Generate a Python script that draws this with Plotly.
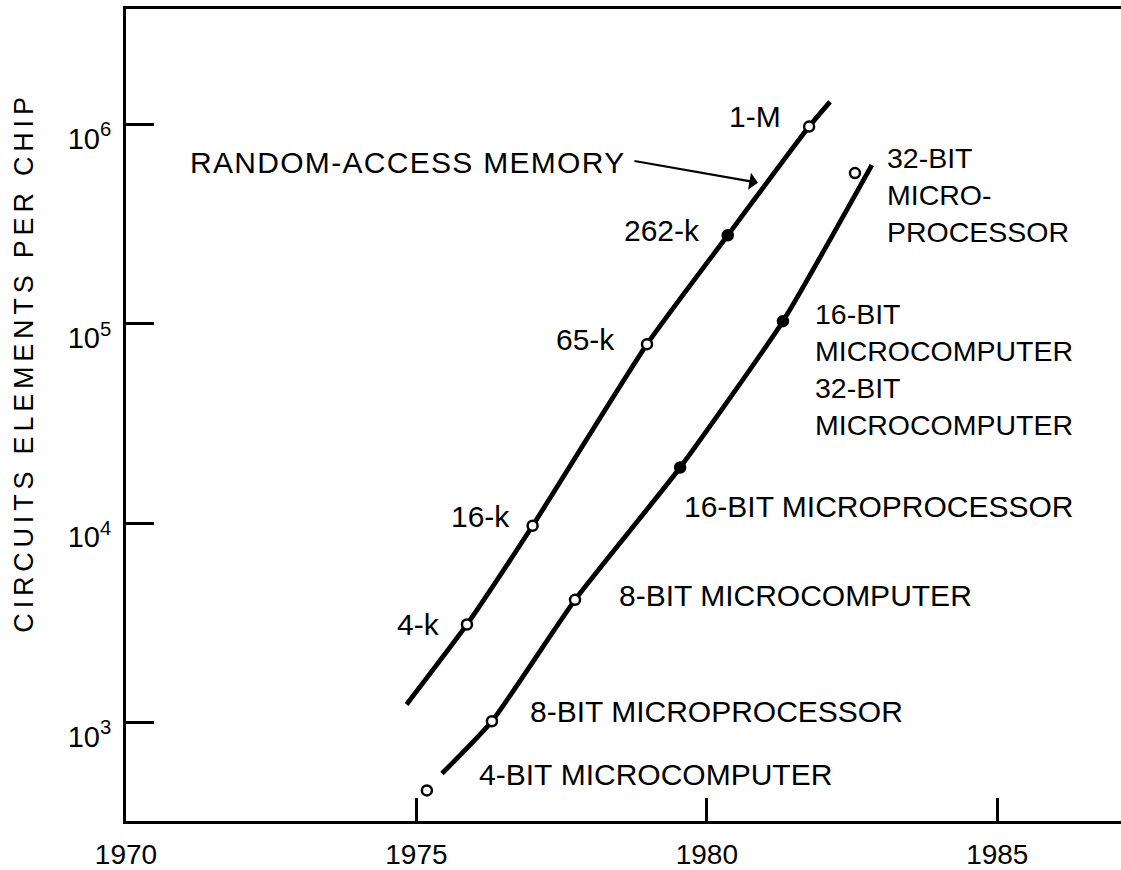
import math
import plotly.graph_objects as go

# ---- data ----
ram_labels = ["4-k", "16-k", "65-k", "262-k", "1-M"]
ram_years = [1975.87, 1977.00, 1978.97, 1980.36, 1981.76]
ram_elements = [3100, 9700, 79000, 278000, 975000]
ram_curve_years = [1974.83, 1975.87, 1977.00, 1978.97, 1980.36, 1981.76, 1982.12]
ram_curve_elements = [1230, 3100, 9700, 79000, 278000, 975000, 1297000]

mp_labels = [
    "4-BIT\u00a0MICROCOMPUTER",
    "8-BIT MICROPROCESSOR",
    "8-BIT MICROCOMPUTER",
    "16-BIT MICROPROCESSOR",
    "16-BIT<br>MICROCOMPUTER<br>32-BIT<br>MICROCOMPUTER",
    "32-BIT<br>MICRO-<br>PROCESSOR",
]
mp_years = [1975.18, 1976.30, 1977.73, 1979.54, 1981.31, 1982.55]
mp_elements = [456, 1014, 4120, 19000, 103000, 570000]
mp_curve_years = [1975.44, 1976.30, 1977.73, 1979.54, 1981.31, 1982.84]
mp_curve_elements = [554, 1014, 4120, 19000, 103000, 625000]

year_ticks = [1970, 1975, 1980, 1985]
year_tick_text = ["1970", "1975", "1980", "1985"]
element_ticks = [1e3, 1e4, 1e5, 1e6]
element_tick_text = ["10<sup>3</sup>", "10<sup>4</sup>", "10<sup>5</sup>", "10<sup>6</sup>"]

ram_arrow_target = (1980.88, 510000)

FONT = "Liberation Sans"

fig = go.Figure()

for cx, cy in [(ram_curve_years, ram_curve_elements), (mp_curve_years, mp_curve_elements)]:
    fig.add_trace(go.Scatter(
        x=cx, y=cy, mode="lines",
        line=dict(color="black", width=4.8, shape="spline", smoothing=0.5),
        hoverinfo="skip",
    ))

# marker fill: the scan shows a few points as solid dots
ram_fill = ["white", "white", "white", "black", "white"]
mp_fill = ["white", "white", "white", "black", "black", "white"]
for px_, py_, fills in [(ram_years, ram_elements, ram_fill), (mp_years, mp_elements, mp_fill)]:
    fig.add_trace(go.Scatter(
        x=px_, y=py_, mode="markers",
        marker=dict(symbol="circle", size=10, color=fills,
                    line=dict(color="black", width=2.5)),
    ))

annotations = []
ram_offsets = [(-25, 0), (-21, 9), (-30, 5), (-26, 5), (-26, 10)]
for lab, xv, yv, (dx, dy) in zip(ram_labels, ram_years, ram_elements, ram_offsets):
    annotations.append(dict(
        x=xv, y=math.log10(yv), xref="x", yref="y", text=lab, showarrow=False,
        xanchor="right", yanchor="middle", xshift=dx, yshift=dy,
        font=dict(family=FONT, size=30, color="black"),
    ))

mp_offsets = [(50, 16), (36, 10), (42, 4), (2, -39), (30, -48), (30, -22)]
for lab, xv, yv, (dx, dy) in zip(mp_labels, mp_years, mp_elements, mp_offsets):
    multi = "<br>" in lab
    annotations.append(dict(
        x=xv, y=math.log10(yv), xref="x", yref="y", text=lab, showarrow=False,
        xanchor="left", yanchor="middle", align="left", xshift=dx, yshift=dy,
        font=dict(family=FONT, size=28.5 if multi else 30, color="black"),
    ))

# random-access memory arrow
annotations.append(dict(
    x=ram_arrow_target[0], y=math.log10(ram_arrow_target[1]), xref="x", yref="y",
    text="", showarrow=True, ax=-125, ay=-22, axref="pixel", ayref="pixel",
    arrowhead=1, arrowsize=1.3, arrowwidth=2.2, arrowcolor="black",
))
annotations.append(dict(
    x=ram_arrow_target[0], y=math.log10(ram_arrow_target[1]), xref="x", yref="y",
    text="<span style='letter-spacing:1.3px'>RANDOM-ACCESS MEMORY</span>",
    showarrow=False, xanchor="right", yanchor="middle", xshift=-131, yshift=20,
    font=dict(family=FONT, size=30, color="black"),
))

# y-axis title
annotations.append(dict(
    x=0, y=0.5645, xref="paper", yref="paper", xshift=-102,
    text="<span style='letter-spacing:4.8px'>CIRCUITS ELEMENTS PER CHIP</span>",
    showarrow=False, textangle=-90, xanchor="center", yanchor="middle",
    font=dict(family=FONT, size=27, color="black"),
))

fig.update_layout(
    width=1121, height=870,
    margin=dict(l=126, r=0, t=9, b=39, pad=0),
    paper_bgcolor="white", plot_bgcolor="white",
    showlegend=False,
    font=dict(family=FONT, color="black"),
    annotations=annotations,
    xaxis=dict(
        range=[1970.0, 1987.13], showgrid=False, zeroline=False,
        showline=True, linewidth=3, linecolor="black", mirror=True,
        ticks="inside", ticklen=23, tickwidth=2.5, tickcolor="black",
        tickvals=year_ticks, ticktext=year_tick_text,
        tickfont=dict(family=FONT, size=28, color="black"),
        ticklabelstandoff=6,
    ),
    yaxis=dict(
        type="log", range=[2.5055, 6.579], showgrid=False, zeroline=False,
        showline=True, linewidth=3, linecolor="black", mirror=False,
        ticks="inside", ticklen=28, tickwidth=2.5, tickcolor="black",
        tickvals=element_ticks, ticktext=element_tick_text,
        tickfont=dict(family=FONT, size=29, color="black"),
        ticklabelstandoff=6, ticklabelshift=14,
    ),
)

fig.write_html("out.html")
